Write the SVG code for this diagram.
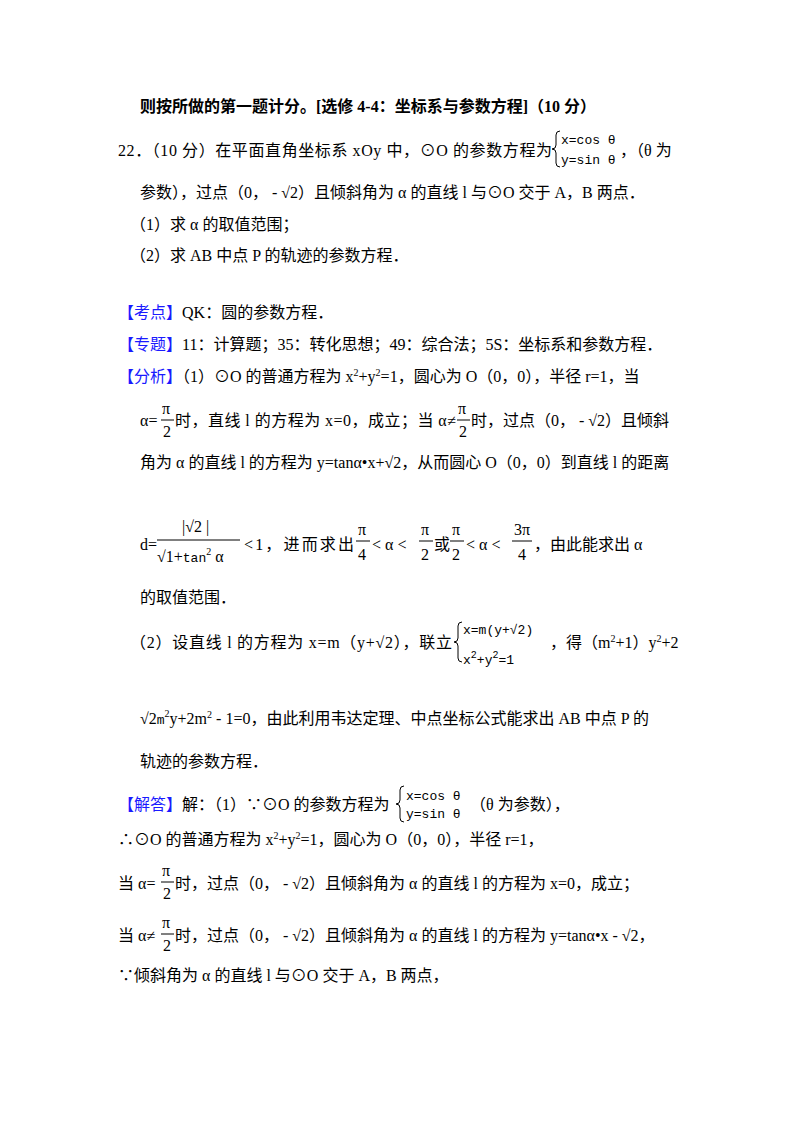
<svg xmlns="http://www.w3.org/2000/svg" width="800" height="1132" viewBox="0 0 800 1132">
<style>
text{font-family:"Liberation Serif","Noto Sans CJK SC",serif;font-size:16px;fill:#000}
.b{font-weight:bold}
.c{fill:#1a1aff}
.m{font-family:"Liberation Mono","Noto Sans CJK SC",monospace;font-size:13px}
.s{font-size:10px}
.f{fill:none;stroke:#000;stroke-width:1}
</style>
<rect width="800" height="1132" fill="#fff"/>
<text class="b" x="140" y="112">则按所做的第一题计分。[选修 4-4：坐标系与参数方程]（10 分）</text>
<text x="118" y="156" textLength="434" lengthAdjust="spacing">22．（10 分）在平面直角坐标系 xOy 中，⊙O 的参数方程为</text>
<path class="f" d="M560,131 q-4,0 -4,4 v10 q0,4 -4,4 q4,0 4,4 v10 q0,4 4,4"/>
<text class="m" x="561" y="144">x=cos θ</text>
<text class="m" x="561" y="164">y=sin θ</text>
<text x="620" y="156">，（θ 为</text>
<text x="140" y="198">参数），过点（0， - √2）且倾斜角为 α 的直线 l 与⊙O 交于 A，B 两点．</text>
<text x="130" y="230">（1）求 α 的取值范围；</text>
<text x="130" y="261">（2）求 AB 中点 P 的轨迹的参数方程．</text>
<text x="118" y="318"><tspan class="c">【考点】</tspan>QK：圆的参数方程．</text>
<text x="118" y="350"><tspan class="c">【专题】</tspan>11：计算题；35：转化思想；49：综合法；5S：坐标系和参数方程．</text>
<text x="118" y="382"><tspan class="c">【分析】</tspan>（1）⊙O 的普通方程为 x<tspan class="s" dy="-6">2</tspan><tspan dy="6">+y</tspan><tspan class="s" dy="-6">2</tspan><tspan dy="6">=1，圆心为 O（0，0），半径 r=1，当</tspan></text>
<text x="140" y="426">α=</text>
<text x="162" y="414">π</text><line class="f" x1="161" y1="420" x2="174" y2="420"/><text x="163" y="437">2</text>
<text x="175" y="426" textLength="281" lengthAdjust="spacing">时，直线 l 的方程为 x=0，成立；当 α≠</text>
<text x="458" y="414">π</text><line class="f" x1="457" y1="420" x2="470" y2="420"/><text x="459" y="437">2</text>
<text x="471" y="426">时，过点（0， - √2）且倾斜</text>
<text x="140" y="468">角为 α 的直线 l 的方程为 y=tanα•x+√2，从而圆心 O（0，0）到直线 l 的距离</text>
<text x="140" y="550">d=</text>
<text x="182" y="532">|√2 |</text>
<line class="f" x1="157" y1="540" x2="240" y2="540"/>
<text x="157" y="562">√1+<tspan class="m">tan</tspan><tspan class="s" dy="-7">2</tspan><tspan dy="7"> α</tspan></text>
<text x="244" y="550" textLength="110" lengthAdjust="spacing">&lt;1，进而求出</text>
<text x="358" y="535">π</text><line class="f" x1="356" y1="541" x2="370" y2="541"/><text x="358" y="560">4</text>
<text x="372" y="550">&lt; α &lt;</text>
<text x="421" y="535">π</text><line class="f" x1="419" y1="541" x2="433" y2="541"/><text x="421" y="560">2</text>
<text x="434" y="550">或</text>
<text x="452" y="535">π</text><line class="f" x1="450" y1="541" x2="464" y2="541"/><text x="452" y="560">2</text>
<text x="466" y="550">&lt; α &lt;</text>
<text x="514" y="535">3π</text><line class="f" x1="512" y1="541" x2="532" y2="541"/><text x="518" y="560">4</text>
<text x="534" y="550">，由此能求出 α</text>
<text x="140" y="603">的取值范围．</text>
<text x="130" y="648" textLength="322" lengthAdjust="spacing">（2）设直线 l 的方程为 x=m（y+√2），联立</text>
<path class="f" d="M462,622 q-4,0 -4,4 v12 q0,4 -4,4 q4,0 4,4 v12 q0,4 4,4"/>
<text class="m" x="463" y="634">x=m(y+√2)</text>
<text class="m" x="463" y="664">x<tspan class="s" dy="-6">2</tspan><tspan dy="6">+y</tspan><tspan class="s" dy="-6">2</tspan><tspan dy="6">=1</tspan></text>
<text x="550" y="648">，得（m<tspan class="s" dy="-6">2</tspan><tspan dy="6">+1）y</tspan><tspan class="s" dy="-6">2</tspan><tspan dy="6">+2</tspan></text>
<text x="140" y="724">√2<tspan class="m">m</tspan><tspan class="s" dy="-7">2</tspan><tspan dy="7">y+2m</tspan><tspan class="s" dy="-6">2</tspan><tspan dy="6"> - 1=0，由此利用韦达定理、中点坐标公式能求出 AB 中点 P 的</tspan></text>
<text x="140" y="767">轨迹的参数方程．</text>
<text x="118" y="810"><tspan class="c">【解答】</tspan>解：（1）∵⊙O 的参数方程为</text>
<path class="f" d="M404,786 q-4,0 -4,4 v10 q0,4 -4,4 q4,0 4,4 v10 q0,4 4,4"/>
<text class="m" x="406" y="800">x=cos θ</text>
<text class="m" x="406" y="818">y=sin θ</text>
<text x="470" y="810">（θ 为参数），</text>
<text x="118" y="845">∴⊙O 的普通方程为 x<tspan class="s" dy="-6">2</tspan><tspan dy="6">+y</tspan><tspan class="s" dy="-6">2</tspan><tspan dy="6">=1，圆心为 O（0，0），半径 r=1，</tspan></text>
<text x="118" y="889">当 α=</text>
<text x="162" y="876">π</text><line class="f" x1="161" y1="882" x2="174" y2="882"/><text x="163" y="899">2</text>
<text x="175" y="889">时，过点（0， - √2）且倾斜角为 α 的直线 l 的方程为 x=0，成立；</text>
<text x="118" y="941">当 α≠</text>
<text x="162" y="928">π</text><line class="f" x1="161" y1="934" x2="174" y2="934"/><text x="163" y="951">2</text>
<text x="175" y="941">时，过点（0， - √2）且倾斜角为 α 的直线 l 的方程为 y=tanα•x - √2，</text>
<text x="118" y="981">∵倾斜角为 α 的直线 l 与⊙O 交于 A，B 两点，</text>
</svg>
